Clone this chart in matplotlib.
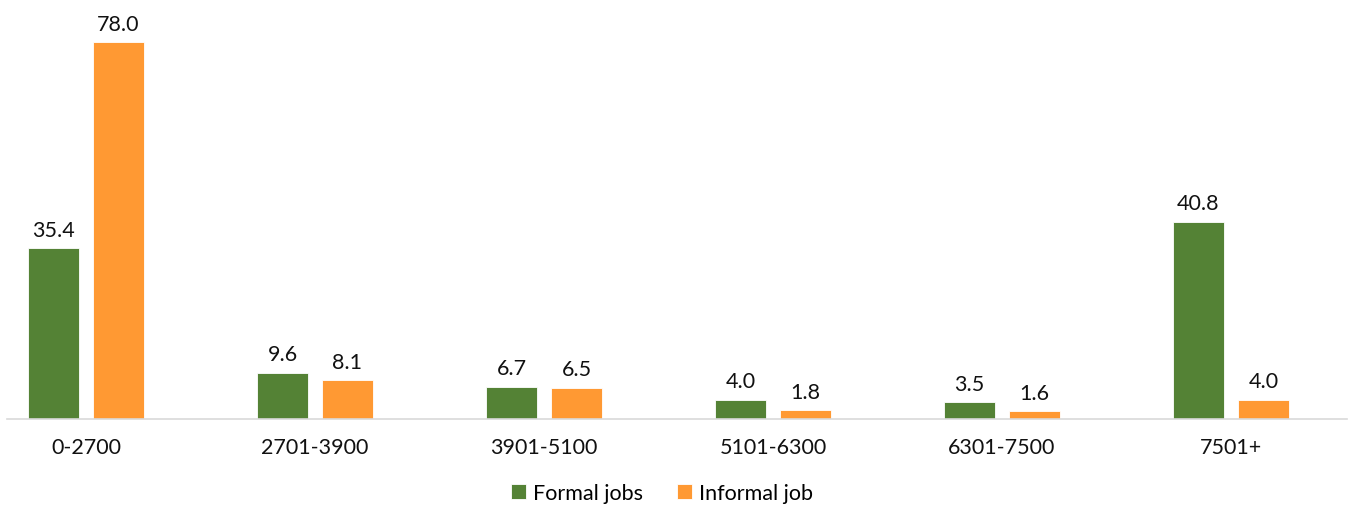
import matplotlib
matplotlib.use('Agg')
import matplotlib.pyplot as plt
import numpy as np

categories = ["0-2700", "2701-3900", "3901-5100", "5101-6300", "6301-7500", "7501+"]
formal = [35.4, 9.6, 6.7, 4.0, 3.5, 40.8]
informal = [78.0, 8.1, 6.5, 1.8, 1.6, 4.0]

green, orange = "#548235", "#FF9933"
plt.rcParams['font.family'] = ['Lato', 'DejaVu Sans']

fig = plt.figure(figsize=(13.52, 5.06), dpi=100)
# axes spans pixel x 7..1347, y baseline at 420
ax = fig.add_axes([7 / 1352, (506 - 420) / 506, 1340 / 1352, (420 - 33.3) / 506])

x = np.arange(len(categories))
width = 0.223
off = 0.142
b1 = ax.bar(x - off, formal, width, color=green, edgecolor='white', linewidth=0.6,
            label="Formal jobs")
b2 = ax.bar(x + off, informal, width, color=orange, edgecolor='white', linewidth=0.6,
            label="Informal job")

for bars, vals in [(b1, formal), (b2, informal)]:
    for r, v in zip(bars, vals):
        ax.annotate("%.1f" % v, (r.get_x() + r.get_width() / 2, v),
                    xytext=(0, 6), textcoords='offset points',
                    ha='center', va='bottom', fontsize=15.5, color='#111111')

ax.set_xlim(-0.345, 5.507)
ax.set_ylim(0, 80)
ax.set_xticks(x)
ax.set_xticklabels(categories, fontsize=15.5, color='#111111')
ax.tick_params(axis='x', length=0, pad=13)
ax.set_yticks([])
for s in ['top', 'right', 'left']:
    ax.spines[s].set_visible(False)
ax.spines['bottom'].set_color('#d9d9d9')
ax.spines['bottom'].set_linewidth(1.2)

fig.legend(loc='center', bbox_to_anchor=(662 / 1352, 1 - 494 / 506), ncol=2,
           frameon=False, fontsize=15.5, handlelength=0.7, handleheight=0.7,
           handletextpad=0.3, columnspacing=1.6)

plt.savefig("out.png", dpi=100)
